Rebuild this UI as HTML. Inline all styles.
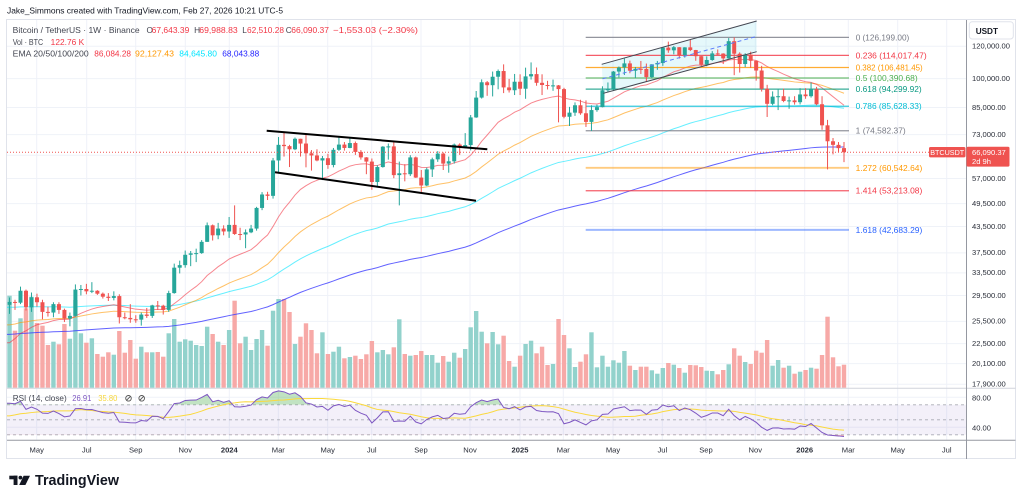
<!DOCTYPE html>
<html><head><meta charset="utf-8">
<style>
html,body{margin:0;padding:0;background:#fff;width:1024px;height:502px;overflow:hidden;}
svg{display:block;font-family:"Liberation Sans",Arial,sans-serif;}
</style></head><body>
<svg id="c" width="1024" height="502" viewBox="0 0 1024 502" xmlns="http://www.w3.org/2000/svg">
<defs>
<clipPath id="pp"><rect x="7" y="20" width="959.5" height="368"/></clipPath>
<clipPath id="rp"><rect x="7" y="388.5" width="959.5" height="51.5"/></clipPath>
<clipPath id="a70"><rect x="7" y="388" width="960" height="16.8"/></clipPath>
<clipPath id="b30"><rect x="7" y="434.8" width="960" height="6"/></clipPath>
</defs>
<rect width="1024" height="502" fill="#fff"/>
<g id="grid" stroke="#eff2f8" stroke-width="1"></g>
<rect x="7" y="404.8" width="959.5" height="30" fill="#7e57c2" fill-opacity="0.09"/>
<g stroke="#9598a1" stroke-width="0.8" stroke-dasharray="3,3" stroke-opacity="0.8">
<line x1="7" x2="966" y1="404.8" y2="404.8"/><line x1="7" x2="966" y1="419.8" y2="419.8"/><line x1="7" x2="966" y1="434.8" y2="434.8"/>
</g>
<polygon points="601.7,64.3 756.7,21 756.7,51.7 603.3,93.3" fill="#00bcd4" fill-opacity="0.1"/>
<g id="vol" clip-path="url(#pp)"></g>
<g id="ema" clip-path="url(#pp)" fill="none" stroke-width="1"></g>
<g stroke-width="1.2" fill="none">
<line x1="585.7" x2="849" y1="37.35" y2="37.35" stroke="#787b86" stroke-opacity="0.8"/>
<line x1="585.7" x2="849" y1="55.38" y2="55.38" stroke="#f23645" stroke-opacity="0.8"/>
<line x1="585.7" x2="849" y1="67.53" y2="67.53" stroke="#ff9800" stroke-opacity="0.8"/>
<line x1="585.7" x2="849" y1="77.99" y2="77.99" stroke="#4caf50" stroke-opacity="0.8"/>
<line x1="585.7" x2="849" y1="89.09" y2="89.09" stroke="#089981" stroke-opacity="0.8"/>
<line x1="585.7" x2="849" y1="106.24" y2="106.24" stroke="#00bcd4" stroke-opacity="0.8"/>
<line x1="585.7" x2="849" y1="130.77" y2="130.77" stroke="#787b86" stroke-opacity="0.8"/>
<line x1="585.7" x2="849" y1="167.8" y2="167.8" stroke="#ff9800" stroke-opacity="0.5" stroke-width="1.8"/>
<line x1="585.7" x2="849" y1="190.72" y2="190.72" stroke="#f23645" stroke-opacity="0.8"/>
<line x1="585.7" x2="849" y1="229.88" y2="229.88" stroke="#2962ff" stroke-opacity="0.45" stroke-width="2"/>
</g>
<g id="cdl" clip-path="url(#pp)"></g>
<g fill="none">
<line x1="266.7" y1="130.7" x2="487.3" y2="149.3" stroke="#000" stroke-width="2"/>
<line x1="275" y1="172.3" x2="476" y2="200.7" stroke="#000" stroke-width="2"/>
<line x1="601.7" y1="64.3" x2="756.7" y2="21" stroke="#434651" stroke-width="1"/>
<line x1="603.3" y1="93.3" x2="756.7" y2="51.7" stroke="#434651" stroke-width="1"/>
<line x1="602.5" y1="78.8" x2="756.7" y2="36.4" stroke="#5b7cfa" stroke-width="1" stroke-dasharray="4,3"/>
<line x1="7" y1="152.23" x2="966" y2="152.23" stroke="#ef5350" stroke-width="1" stroke-dasharray="1,2"/>
</g>
<g id="rsi" clip-path="url(#rp)" fill="none"></g>
<!-- frame -->
<g fill="none">
<rect x="6.5" y="19.5" width="1009" height="439" stroke="#e0e3eb" stroke-width="1"/>
<line x1="7" x2="1015.5" y1="388.2" y2="388.2" stroke="#d1d4dc" stroke-width="1"/>
<line x1="7" x2="1015.5" y1="440.3" y2="440.3" stroke="#9598a1" stroke-width="1"/>
<line x1="966.5" x2="966.5" y1="20" y2="459" stroke="#9598a1" stroke-width="1"/>
</g>
<!-- header -->
<text x="7" y="13.6" font-size="8.4" fill="#131722" textLength="276" lengthAdjust="spacingAndGlyphs">Jake_Simmons created with TradingView.com, Feb 27, 2026 10:21 UTC-5</text>
<!-- legend -->
<g font-size="8.3">
<text x="12.7" y="33" fill="#434651" textLength="127" lengthAdjust="spacingAndGlyphs">Bitcoin / TetherUS · 1W · Binance</text>
<text x="146.5" y="33" fill="#434651">O</text>
<text x="151.7" y="33" fill="#f23645" textLength="37.6" lengthAdjust="spacingAndGlyphs">67,643.39</text>
<text x="194.1" y="33" fill="#434651">H</text>
<text x="199.3" y="33" fill="#f23645" textLength="38.4" lengthAdjust="spacingAndGlyphs">69,988.83</text>
<text x="242.3" y="33" fill="#434651">L</text>
<text x="247" y="33" fill="#f23645" textLength="37" lengthAdjust="spacingAndGlyphs">62,510.28</text>
<text x="285.8" y="33" fill="#434651">C</text>
<text x="291.3" y="33" fill="#f23645" textLength="37.7" lengthAdjust="spacingAndGlyphs">66,090.37</text>
<text x="333" y="33" fill="#f23645" textLength="85" lengthAdjust="spacingAndGlyphs">−1,553.03 (−2.30%)</text>
<text x="12.7" y="45" fill="#434651" textLength="30.5" lengthAdjust="spacingAndGlyphs">Vol · BTC</text>
<text x="50.7" y="45" fill="#f23645" textLength="33.5" lengthAdjust="spacingAndGlyphs">122.76 K</text>
<text x="12.7" y="56.5" fill="#434651" textLength="76" lengthAdjust="spacingAndGlyphs">EMA 20/50/100/200</text>
<text x="94.3" y="56.5" fill="#f23645" textLength="36.7" lengthAdjust="spacingAndGlyphs">86,084.28</text>
<text x="135" y="56.5" fill="#ff9800" textLength="39" lengthAdjust="spacingAndGlyphs">92,127.43</text>
<text x="179.3" y="56.5" fill="#00e5ff" textLength="37.7" lengthAdjust="spacingAndGlyphs">84,645.80</text>
<text x="222.3" y="56.5" fill="#2525ff" textLength="37" lengthAdjust="spacingAndGlyphs">68,043.88</text>
</g>
<!-- fib labels -->
<g font-size="8.3">
<text x="855.7" y="40.3" fill="#787b86" textLength="53.6" lengthAdjust="spacingAndGlyphs">0 (126,199.00)</text>
<text x="855.7" y="58.3" fill="#f23645" textLength="71" lengthAdjust="spacingAndGlyphs">0.236 (114,017.47)</text>
<text x="855.7" y="70.5" fill="#ff9800" textLength="67" lengthAdjust="spacingAndGlyphs">0.382 (106,481.45)</text>
<text x="855.7" y="81" fill="#4caf50" textLength="62" lengthAdjust="spacingAndGlyphs">0.5 (100,390.68)</text>
<text x="855.7" y="92.1" fill="#089981" textLength="66" lengthAdjust="spacingAndGlyphs">0.618 (94,299.92)</text>
<text x="855.7" y="109.2" fill="#00bcd4" textLength="66" lengthAdjust="spacingAndGlyphs">0.786 (85,628.33)</text>
<text x="855.7" y="133.7" fill="#787b86" textLength="50" lengthAdjust="spacingAndGlyphs">1 (74,582.37)</text>
<text x="855.7" y="170.8" fill="#ff9800" textLength="66.6" lengthAdjust="spacingAndGlyphs">1.272 (60,542.64)</text>
<text x="855.7" y="193.7" fill="#f23645" textLength="66.6" lengthAdjust="spacingAndGlyphs">1.414 (53,213.08)</text>
<text x="855.7" y="232.9" fill="#2962ff" textLength="66.6" lengthAdjust="spacingAndGlyphs">1.618 (42,683.29)</text>
</g>
<!-- price axis -->
<rect x="969.3" y="21.7" width="44" height="17.3" rx="3" fill="#fff" stroke="#e0e3eb"/>
<text x="975.7" y="33.8" font-size="8.2" font-weight="bold" fill="#131722">USDT</text>
<g font-size="7.6" fill="#2a2e39">
<text x="972" y="48.6" textLength="38" lengthAdjust="spacingAndGlyphs">120,000.00</text>
<text x="972" y="81" textLength="38" lengthAdjust="spacingAndGlyphs">100,000.00</text>
<text x="972" y="109.8">85,000.00</text>
<text x="972" y="136.9">73,000.00</text>
<text x="972" y="180.8">57,000.00</text>
<text x="972" y="205.9">49,500.00</text>
<text x="972" y="228.8">43,500.00</text>
<text x="972" y="255.2">37,500.00</text>
<text x="972" y="275.2">33,500.00</text>
<text x="972" y="297.8">29,500.00</text>
<text x="972" y="323.7">25,500.00</text>
<text x="972" y="345.9">22,500.00</text>
<text x="972" y="366">20,100.00</text>
<text x="972" y="386.5">17,900.00</text>
<text x="972" y="400.3">80.00</text>
<text x="972" y="430.3">40.00</text>
</g>
<rect x="929" y="147" width="36.5" height="10.4" rx="1.5" fill="#ef5350"/>
<text x="947.2" y="155" font-size="7.2" fill="#fff" text-anchor="middle">BTCUSDT</text>
<rect x="966.5" y="146.8" width="43" height="19.8" rx="1.5" fill="#ef5350"/>
<text x="972" y="155.2" font-size="7.6" fill="#fff">66,090.37</text>
<text x="972" y="164.2" font-size="7.6" fill="#fff">2d 9h</text>
<!-- RSI legend -->
<g font-size="8.3">
<text x="12.7" y="401" fill="#434651" textLength="54" lengthAdjust="spacingAndGlyphs">RSI (14, close)</text>
<text x="72.3" y="401" fill="#7e57c2" textLength="19" lengthAdjust="spacingAndGlyphs">26.91</text>
<text x="98.3" y="401" fill="#f7d73a" textLength="19" lengthAdjust="spacingAndGlyphs">35.80</text>
</g>
<g fill="none" stroke="#555" stroke-width="0.9">
<circle cx="128.5" cy="398.3" r="2.8"/><line x1="126.5" y1="400.3" x2="130.5" y2="396.3"/>
<circle cx="141.7" cy="398.3" r="2.8"/><line x1="139.7" y1="400.3" x2="143.7" y2="396.3"/>
</g>
<!-- time axis -->
<g font-size="7.6" fill="#2a2e39" text-anchor="middle">
<text x="36.7" y="452.5">May</text>
<text x="86.7" y="452.5">Jul</text>
<text x="135.7" y="452.5">Sep</text>
<text x="185.3" y="452.5">Nov</text>
<text x="229.3" y="452.5" font-weight="bold">2024</text>
<text x="278.3" y="452.5">Mar</text>
<text x="327.7" y="452.5">May</text>
<text x="371.7" y="452.5">Jul</text>
<text x="421" y="452.5">Sep</text>
<text x="470" y="452.5">Nov</text>
<text x="520" y="452.5" font-weight="bold">2025</text>
<text x="563.3" y="452.5">Mar</text>
<text x="613" y="452.5">May</text>
<text x="662.3" y="452.5">Jul</text>
<text x="706" y="452.5">Sep</text>
<text x="755.3" y="452.5">Nov</text>
<text x="804.7" y="452.5" font-weight="bold">2026</text>
<text x="848.3" y="452.5">Mar</text>
<text x="897.7" y="452.5">May</text>
<text x="946.7" y="452.5">Jul</text>
</g>
<!-- logo -->
<g fill="#131722">
<rect x="9.3" y="475.7" width="8.2" height="3.6"/>
<rect x="13.6" y="475.7" width="3.9" height="9.3"/>
<circle cx="20.4" cy="477.6" r="1.9"/>
<polygon points="23.6,475.7 30,475.7 25.4,485 19.2,485"/>
</g>
<text x="35" y="485" font-size="14.5" font-weight="bold" fill="#131722" textLength="84" lengthAdjust="spacingAndGlyphs">TradingView</text>
</svg>
<script>
(function(){
var NS='http://www.w3.org/2000/svg';
function el(p,t,a){var e=document.createElementNS(NS,t);for(var k in a)e.setAttribute(k,a[k]);p.appendChild(e);return e;}
var D=[[29.17,26.6,28.45,295.7],[28.8,27.2,28.33,330.7],[31.0,28.1,30.3,318.3],[30.5,27.1,27.6,308.3],[30.0,26.9,29.2,296.7],[29.8,27.7,28.4,323],[28.8,25.8,26.9,325.7],[27.7,26.2,26.8,345],[28.4,26.1,28.1,341.7],[28.4,26.6,27.2,344.3],[27.4,25.4,25.9,324],[26.8,24.8,26.3,338.7],[31.4,26.2,30.5,300],[31.3,29.5,30.6,333.3],[31.5,29.7,30.2,342.7],[31.8,29.9,30.3,338.3],[30.4,29.6,29.8,354],[30.0,29.0,29.3,356.7],[29.9,28.6,29.1,352.3],[30.2,28.7,29.4,354.7],[29.7,25.2,26.1,331],[26.8,25.8,26.0,352.7],[28.1,25.3,25.8,340],[26.4,25.3,25.75,358.7],[26.8,24.9,26.5,346.7],[27.5,26.0,26.3,352.3],[28.0,26.0,27.9,352.3],[28.6,27.2,27.85,352],[28.0,26.5,27.2,356.7],[30.3,26.9,29.9,333.3],[35.3,29.8,34.5,319],[35.9,33.4,35.0,341.7],[38.0,34.5,37.1,339.3],[37.9,34.8,37.4,340.7],[38.4,35.6,37.45,345],[40.3,37.3,39.9,346],[44.5,39.9,43.8,326.7],[44.0,40.2,41.4,334],[44.4,40.5,43.0,341.7],[43.8,41.4,42.3,345],[45.9,40.8,43.9,330],[49.0,41.5,41.7,300.7],[43.2,40.3,41.6,343.3],[42.8,38.5,42.1,336.7],[43.9,41.9,43.0,350],[48.6,42.5,48.3,339],[52.8,47.7,52.1,330],[52.9,50.5,51.7,345.7],[64.0,50.9,63.1,310.7],[72.0,59.0,68.9,299],[73.8,64.5,68.4,299],[68.9,60.8,67.2,312],[71.8,66.9,71.3,344],[71.3,64.5,69.4,336.7],[72.8,60.7,65.7,323.3],[66.9,59.6,64.9,330],[67.2,62.8,63.1,353.3],[64.7,56.5,63.9,332.3],[65.5,60.2,61.5,354],[67.7,60.7,67.0,351.7],[71.9,66.6,69.0,346.7],[70.0,66.7,67.7,358.3],[72.0,67.6,69.6,357],[70.2,65.1,66.2,355.7],[66.9,63.4,64.2,359],[64.3,58.4,62.7,354.3],[63.8,53.5,55.9,341],[61.4,54.3,60.8,352.3],[68.4,60.6,68.2,350],[69.4,63.4,68.3,354.3],[70.1,57.1,58.1,347.3],[62.7,49.0,58.7,319.3],[61.8,56.1,58.4,354],[65.0,57.8,64.2,355.7],[64.5,57.2,57.3,355],[59.8,52.6,54.8,351],[60.6,54.6,60.0,355],[64.1,57.5,63.5,355],[66.5,62.6,65.6,362.7],[66.0,59.8,62.0,356],[64.5,58.9,62.8,361.7],[69.4,62.0,69.0,352.7],[69.5,65.1,68.0,357.7],[73.6,67.5,68.8,349],[81.5,66.8,80.4,327.3],[93.3,80.2,89.9,311],[99.6,89.4,98.0,331.7],[98.7,90.8,96.4,343.3],[104.1,90.5,101.1,332],[105.3,94.2,104.4,344.3],[108.4,92.2,95.2,335.7],[99.9,92.5,93.7,361],[102.7,91.2,98.3,366.7],[102.5,91.2,94.5,355.7],[106.4,89.3,101.3,344],[109.6,99.5,102.6,340.7],[106.5,96.1,97.7,353.3],[102.5,91.2,96.5,346.7],[98.8,94.1,96.1,365],[99.5,93.4,96.3,364],[96.5,78.2,94.3,319],[95.0,80.0,80.7,335],[85.3,76.6,82.6,348.3],[87.5,81.1,86.1,367],[88.8,81.6,82.3,361.7],[88.5,76.2,78.4,354.3],[86.1,74.5,83.8,332.3],[86.4,83.0,85.2,367.3],[95.8,85.1,93.7,355.7],[97.9,92.8,94.3,366.7],[104.4,93.4,104.1,360.3],[107.1,100.7,106.5,362.7],[112.0,102.1,109.0,351],[110.7,103.1,104.6,365.7],[106.8,100.4,105.7,370],[110.5,102.7,105.6,366.7],[108.9,98.2,100.9,366.7],[108.5,100.3,108.4,370.3],[110.5,105.1,109.2,373.7],[119.5,107.5,119.1,368],[123.2,115.7,117.3,363],[120.2,114.7,119.4,364.7],[119.4,112.0,114.2,368],[119.4,112.6,119.3,372.7],[124.5,116.8,117.5,365],[117.6,110.6,113.5,365.3],[113.6,107.3,108.2,367],[113.4,107.3,111.1,370.7],[116.8,110.6,115.3,371],[117.9,114.3,115.2,374.3],[115.4,108.6,112.1,370],[125.7,111.9,123.5,364.3],[126.2,102.0,115.1,348.3],[116.0,103.5,108.6,355.7],[115.4,106.7,114.5,362],[116.4,106.3,110.6,364],[110.8,98.9,104.7,350.7],[107.5,93.0,94.5,352.7],[96.6,80.6,86.8,340],[93.1,86.1,90.4,365.7],[94.2,83.8,90.6,360],[94.6,87.6,88.2,367.7],[90.4,84.4,88.5,365.7],[90.6,86.4,87.6,373.7],[94.8,86.5,91.5,371.7],[94.8,89.3,90.6,370],[97.9,89.9,94.3,367.7],[95.5,86.1,86.6,368.7],[90.6,75.0,76.9,355],[79.3,60.0,70.3,316.7],[71.6,65.3,68.9,357.3],[70.0,66.2,67.64,366.3],[69.99,62.51,66.09,364.7]];
var N=D.length;
function X(k){return 844-5.49*(N-1-k);}
function Y(p){return 46.3+177.6*Math.log(120/p);}
var O=[],H=[],L=[],C=[],prev=27.99;
for(var k=0;k<N;k++){O.push(prev);H.push(D[k][0]);L.push(D[k][1]);C.push(D[k][2]);prev=D[k][2];}
// grid
var g=document.getElementById('grid');
[46.3,78.68,107.54,134.57,155.19,178.51,203.57,226.52,252.88,272.91,295.49,321.37,343.6,363.63,384.22,397.3,427.3].forEach(function(y){el(g,'line',{x1:7,x2:966,y1:y,y2:y});});
[36.7,86.7,135.7,185.3,229.3,278.3,327.7,371.7,421,470,520,563.3,613,662.3,706,755.3,804.7,848.3,897.7,946.7].forEach(function(x){el(g,'line',{x1:x,x2:x,y1:20,y2:440});});
// volume
var vg=document.getElementById('vol');
for(k=0;k<N;k++){var up=C[k]>=O[k],t=D[k][3],x=X(k);
el(vg,'rect',{x:(x-2.2).toFixed(2),y:t,width:4.4,height:(387.8-t).toFixed(2),fill:up?'#92d2cc':'#f7a9a7'});}
// EMA
function ema(seed,n,target){var a=2/(n+1),e=[seed];for(var k=1;k<N;k++)e.push(e[k-1]+a*(C[k]-e[k-1]));var r=target/e[N-1];return e.map(function(v,k){return v*Math.pow(r,k/(N-1));});}
function path(arr,fy){var s='M7,'+fy(arr[0]).toFixed(2);for(var k=0;k<N;k++)s+=' L'+X(k).toFixed(2)+','+fy(arr[k]).toFixed(2);return s;}
var eg=document.getElementById('ema');
[[23.7,200,68.04388,'#3b3bff',0.8],[27.6,100,84.6458,'#00e5ff',0.6],[25.0,50,92.12743,'#ff9800',0.6],[22.6,20,86.08428,'#f23645',0.6]].forEach(function(c){
el(eg,'path',{d:path(ema(c[0],c[1],c[2]),Y),stroke:c[3],'stroke-opacity':c[4]});});
// candles
var cg=document.getElementById('cdl');
for(k=0;k<N;k++){var up2=C[k]>=O[k],col=up2?'#26a69a':'#ef5350',xx=X(k);
el(cg,'line',{x1:xx.toFixed(2),x2:xx.toFixed(2),y1:Y(H[k]).toFixed(2),y2:Y(L[k]).toFixed(2),stroke:col,'stroke-width':1});
var y1=Y(Math.max(O[k],C[k])),y2=Y(Math.min(O[k],C[k]));
el(cg,'rect',{x:(xx-2).toFixed(2),y:y1.toFixed(2),width:4,height:Math.max(1,y2-y1).toFixed(2),fill:col});}
// RSI
var ag=0.9,al=0.35,R=[100-100/(1+ag/al)];
for(k=1;k<N;k++){var ch=C[k]-C[k-1];ag=(ag*13+Math.max(ch,0))/14;al=(al*13+Math.max(-ch,0))/14;R.push(100-100/(1+ag/al));}
var pad=[];for(k=0;k<13;k++)pad.push(54);pad=pad.concat(R);var M=[];
for(k=0;k<N;k++){var s=0;for(var j=0;j<14;j++)s+=pad[k+j];M.push(s/14);}
function Yr(r){return 397.3+(80-r)*0.75;}
var rg=document.getElementById('rsi');
var pts='';for(k=0;k<N;k++)pts+=' L'+X(k).toFixed(2)+','+Yr(R[k]).toFixed(2);
el(rg,'path',{d:'M7,404.8 L7,'+Yr(R[0]).toFixed(2)+pts+' L'+X(N-1).toFixed(2)+',404.8 Z',fill:'#4caf50','fill-opacity':0.35,'clip-path':'url(#a70)'});
el(rg,'path',{d:'M7,434.8 L7,'+Yr(R[0]).toFixed(2)+pts+' L'+X(N-1).toFixed(2)+',434.8 Z',fill:'#f23645','fill-opacity':0.3,'clip-path':'url(#b30)'});
el(rg,'path',{d:path(M,Yr),stroke:'#fbd93c','stroke-width':1});
el(rg,'path',{d:path(R,Yr),stroke:'#7e57c2','stroke-width':1});
})();
</script>
</body></html>
